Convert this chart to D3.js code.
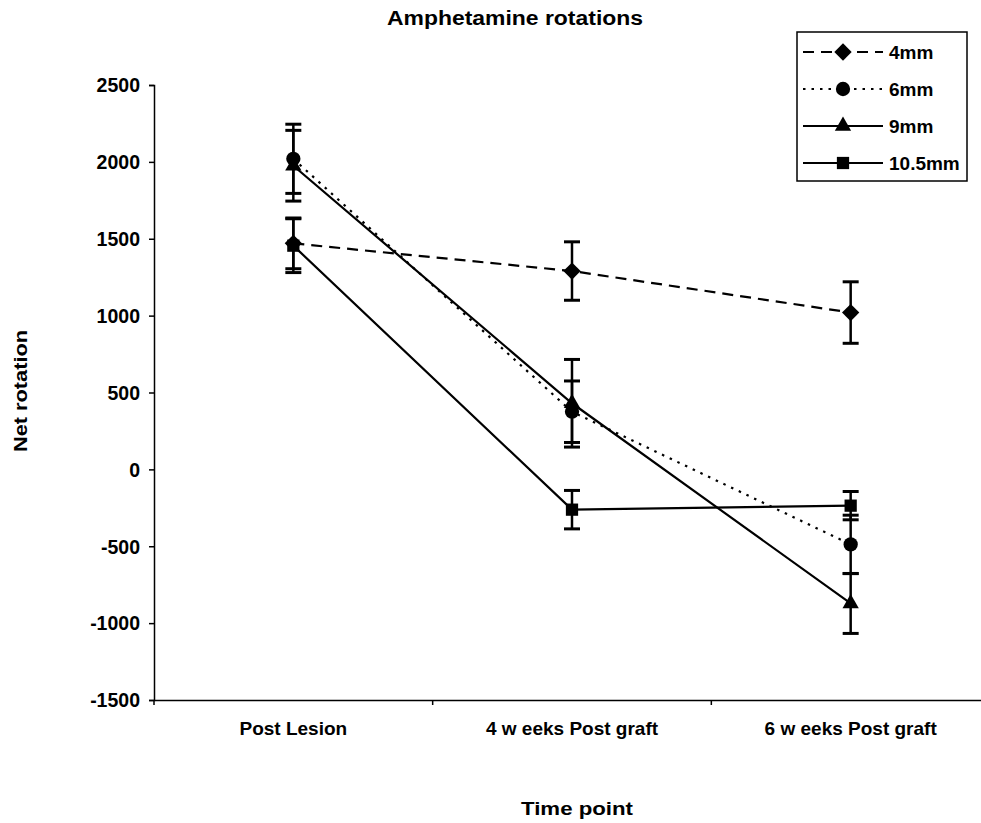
<!DOCTYPE html>
<html>
<head>
<meta charset="utf-8">
<script src="https://cdn.jsdelivr.net/npm/d3@7"></script>
<style>
  body { margin: 0; background: #fff; }
  #graf { width: 981px; height: 823px; overflow: hidden; }
  text { font-family: "Liberation Sans", Arial, sans-serif; font-weight: bold; fill: #000; }
</style>
</head>
<body>
<div id="graf"></div>
<script>
// Datos
var categorias = ['Post Lesion', '4 w eeks Post graft', '6 w eeks Post graft']
var series = ['4mm', '6mm', '9mm', '10.5mm']
var valores4mm   = [1470, 1290, 1020]
var errores4mm   = [165, 190, 200]
var valores6mm   = [2020, 375, -488]
var errores6mm   = [225, 200, 190]
var valores9mm   = [1975, 430, -872]
var errores9mm   = [230, 285, 195]
var valores105mm = [1455, -262, -236]
var errores105mm = [175, 125, 92]
var yTicks = [-1500, -1000, -500, 0, 500, 1000, 1500, 2000, 2500]

var valores = [valores4mm, valores6mm, valores9mm, valores105mm]
var errores = [errores4mm, errores6mm, errores9mm, errores105mm]

// estilo de cada serie
var trazo   = ['11,7', '2.5,6', null, null]
var simbolo = [d3.symbolSquare, d3.symbolCircle, d3.symbolTriangle, d3.symbolSquare]
var tamano  = [150, 160, 115, 150]
var giro    = [45, 0, 0, 0]

ancho_total = 981
alto_total  = 823
var margins = { top: 85, left: 154, right: -9, bottom: 123 }
ancho = ancho_total - margins.left - margins.right
alto  = alto_total - margins.top - margins.bottom

svg = d3.select('#graf').append('svg')
        .attr('width', ancho_total)
        .attr('height', alto_total)

g = svg.append('g')
        .attr('transform', `translate(${ margins.left }, ${ margins.top })`)

// Escaladores
x = d3.scaleBand().domain(categorias).range([0, ancho])
y = d3.scaleLinear().domain([-1500, 2500]).range([alto, 0])
cx = c => x(c) + x.bandwidth() / 2

// Ejes
yAxis = g.append('g')
          .call(d3.axisLeft(y).tickValues(yTicks).tickFormat(d => String(d))
                  .tickSize(5).tickPadding(9))
yAxis.select('.domain').attr('stroke-width', 1.5)
yAxis.selectAll('.tick line').attr('stroke-width', 1.5)
yAxis.selectAll('.tick text')
      .style('font-size', '19.5px')
      .attr('dy', '0.35em')

xAxis = g.append('g')
          .attr('transform', `translate(0, ${alto})`)
          .call(d3.axisBottom(x).tickSize(0).tickPadding(22))
xAxis.select('.domain').attr('stroke-width', 1.5)
xAxis.selectAll('.tick text').style('font-size', '19px')

// marcas entre categorias
g.selectAll('.sep')
  .data(d3.range(categorias.length + 1))
  .join('line')
  .attr('x1', i => i * x.step())
  .attr('x2', i => i * x.step())
  .attr('y1', alto)
  .attr('y2', alto + 5)
  .attr('stroke', '#000')
  .attr('stroke-width', 1.5)

// Generador de lineas
lineaGen = d3.line()
              .x((d, i) => cx(categorias[i]))
              .y(d => y(d))

function marca(sel, s) {
  sel.attr('d', d3.symbol().type(simbolo[s]).size(tamano[s])())
     .attr('fill', '#000')
}

series.forEach((nombre, s) => {
  var capa = g.append('g').attr('class', 'serie')

  capa.append('path')
      .attr('d', lineaGen(valores[s]))
      .attr('fill', 'none')
      .attr('stroke', '#000')
      .attr('stroke-width', 2.2)
      .attr('stroke-dasharray', trazo[s])

  // barras de error
  var barras = capa.selectAll('.err')
      .data(valores[s].map((v, i) => ({ v: v, e: errores[s][i], c: categorias[i] })))
      .join('g')
  barras.append('line')
      .attr('x1', d => cx(d.c)).attr('x2', d => cx(d.c))
      .attr('y1', d => y(d.v + d.e)).attr('y2', d => y(d.v - d.e))
      .attr('stroke', '#000').attr('stroke-width', 2.5)
  barras.selectAll('.cap')
      .data(d => [{ c: d.c, val: d.v + d.e }, { c: d.c, val: d.v - d.e }])
      .join('line')
      .attr('x1', d => cx(d.c) - 8).attr('x2', d => cx(d.c) + 8)
      .attr('y1', d => y(d.val)).attr('y2', d => y(d.val))
      .attr('stroke', '#000').attr('stroke-width', 3)

  capa.selectAll('.pt')
      .data(valores[s])
      .join('path')
      .attr('transform', (d, i) => `translate(${cx(categorias[i])}, ${y(d)}) rotate(${giro[s]})`)
      .call(marca, s)
})

// Titulos
svg.append('text')
    .attr('x', 515).attr('y', 25)
    .attr('text-anchor', 'middle')
    .style('font-size', '20px')
    .attr('textLength', 256)
    .attr('lengthAdjust', 'spacingAndGlyphs')
    .text('Amphetamine rotations')

svg.append('text')
    .attr('transform', 'translate(27, 391) rotate(-90)')
    .attr('text-anchor', 'middle')
    .style('font-size', '18px')
    .attr('textLength', 122)
    .attr('lengthAdjust', 'spacingAndGlyphs')
    .text('Net rotation')

svg.append('text')
    .attr('x', 577).attr('y', 815)
    .attr('text-anchor', 'middle')
    .style('font-size', '18px')
    .attr('textLength', 112)
    .attr('lengthAdjust', 'spacingAndGlyphs')
    .text('Time point')

// Leyenda
leyenda = svg.append('g').attr('transform', 'translate(797, 32)')
leyenda.append('rect')
    .attr('width', 170).attr('height', 149)
    .attr('fill', '#fff')
    .attr('stroke', '#000')
    .attr('stroke-width', 1.5)

var fila = leyenda.selectAll('.fila')
    .data(series)
    .join('g')
    .attr('transform', (d, i) => `translate(0, ${20 + i * 37})`)
fila.append('line')
    .attr('x1', 6).attr('x2', 86)
    .attr('stroke', '#000')
    .attr('stroke-width', 2.2)
    .attr('stroke-dasharray', (d, i) => trazo[i])
fila.append('path')
    .each(function(d, i) {
      d3.select(this)
        .attr('transform', `translate(46, 0) rotate(${giro[i]})`)
        .call(marca, i)
    })
fila.append('text')
    .attr('x', 92)
    .attr('dy', '0.35em')
    .style('font-size', '19px')
    .text(d => d)
</script>
</body>
</html>
